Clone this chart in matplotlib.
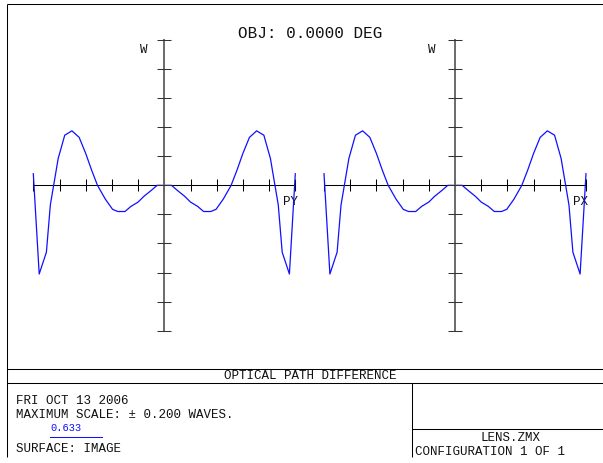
import numpy as np
import matplotlib
matplotlib.use("Agg")
import matplotlib.pyplot as plt

# Optical path difference fans (waves) versus normalized pupil coordinate
pupil = [-1.00, -0.955, -0.90, -0.87, -0.81, -0.76, -0.705, -0.65, -0.60, -0.555,
         -0.51, -0.45, -0.395, -0.355, -0.30, -0.255, -0.20, -0.155, -0.10, -0.055,
         0.00,
         0.055, 0.10, 0.155, 0.20, 0.255, 0.30, 0.355, 0.395, 0.45, 0.51,
         0.555, 0.60, 0.65, 0.705, 0.76, 0.81, 0.87, 0.90, 0.955, 1.00]
opd_py = [0.016, -0.122, -0.092, -0.027, 0.037, 0.069, 0.075, 0.066, 0.044, 0.021,
          0.000, -0.019, -0.033, -0.036, -0.036, -0.029, -0.023, -0.015, -0.007, 0.000,
          0.000,
          0.000, -0.007, -0.015, -0.023, -0.029, -0.036, -0.036, -0.033, -0.019, 0.000,
          0.021, 0.044, 0.066, 0.075, 0.069, 0.037, -0.027, -0.092, -0.122, 0.016]
opd_px = [0.016, -0.122, -0.092, -0.027, 0.037, 0.069, 0.075, 0.066, 0.044, 0.021,
          0.000, -0.019, -0.033, -0.036, -0.036, -0.029, -0.023, -0.015, -0.007, 0.000,
          0.000,
          0.000, -0.007, -0.015, -0.023, -0.029, -0.036, -0.036, -0.033, -0.019, 0.000,
          0.021, 0.044, 0.066, 0.075, 0.069, 0.037, -0.027, -0.092, -0.122, 0.016]
fan_labels = ["PY", "PX"]
max_scale = 0.200
pupil_ticks = [-1.0, -0.8, -0.6, -0.4, -0.2, 0.0, 0.2, 0.4, 0.6, 0.8, 1.0]
wave_ticks = [-0.20, -0.16, -0.12, -0.08, -0.04, 0.0, 0.04, 0.08, 0.12, 0.16, 0.20]

title = "OBJ: 0.0000 DEG"
plot_name = "OPTICAL PATH DIFFERENCE"
info_lines = ["FRI OCT 13 2006", "MAXIMUM SCALE: \u00b1 0.200 WAVES."]
wavelength = "0.633"
surface_line = "SURFACE: IMAGE"
file_name = "LENS.ZMX"
config_line = "CONFIGURATION 1 OF 1"

W, H, DPI = 603, 464, 100
fig = plt.figure(figsize=(W / DPI, H / DPI), dpi=DPI)
fig.patch.set_facecolor("white")

FONT = ["Liberation Mono", "DejaVu Sans Mono"]
BLUE = "#1010ff"
lw = 0.75

# Pixel-space layer for the frame and annotation block
bg = fig.add_axes([0, 0, 1, 1])
bg.set_xlim(0, W)
bg.set_ylim(H, 0)
bg.axis("off")

frame = [
    ((7, 7), (5, 458)),
    ((7, W), (5, 5)),
    ((7, W), (369.5, 369.5)),
    ((7, W), (383.5, 383.5)),
    ((411.5, 411.5), (383.5, 458)),
    ((411.5, W), (430, 430)),
]
for xs, ys in frame:
    bg.plot(xs, ys, color="black", lw=lw, solid_capstyle="butt")

txt = dict(family=FONT, fontsize=9, color="#111111")
bg.text(310, 33, title, ha="center", va="center", family=FONT, fontsize=11.5, color="#111111")
bg.text(310, 376.5, plot_name, ha="center", va="center", **txt)
bg.text(16, 401.5, info_lines[0], ha="left", va="center", **txt)
bg.text(16, 415.5, info_lines[1], ha="left", va="center", **txt)
bg.text(50, 428.5, wavelength, ha="left", va="center", family=FONT, fontsize=7.5, color=BLUE)
bg.plot([50, 101.5], [437.5, 437.5], color=BLUE, lw=lw)
bg.text(16, 449, surface_line, ha="left", va="center", **txt)
bg.text(510, 438, file_name, ha="center", va="center", **txt)
bg.text(415, 452, config_line, ha="left", va="center", **txt)

# Fan panels: (left px, right px, data, label, W label x px, fan label x px)
panels = [
    (33.3, 295.3, opd_py, fan_labels[0], 143.5, 291),
    (324.0, 586.0, opd_px, fan_labels[1], 432, 580),
]
top_px, bot_px = 41.0, 331.7
for x0, x1, opd, lab, wx, lx in panels:
    ax = fig.add_axes([x0 / W, 1 - bot_px / H, (x1 - x0) / W, (bot_px - top_px) / H])
    ax.set_xlim(-1, 1)
    ax.set_ylim(-max_scale, max_scale)
    ax.axis("off")
    # pupil axis with ticks
    ax.plot([-1, 1], [0, 0], color="black", lw=lw, clip_on=False, zorder=1)
    ax.plot(pupil_ticks, np.zeros(len(pupil_ticks)), ls="none", marker="|",
            ms=9, mew=lw, color="black", clip_on=False, zorder=1)
    # OPD curve
    ax.plot(pupil, opd, color=BLUE, lw=0.9, clip_on=False, zorder=2)
    # wave axis with ticks
    ax.plot([0, 0], [-max_scale, max_scale], color="#6a6a6a", lw=1.4,
            clip_on=False, zorder=3)
    ax.plot(np.zeros(len(wave_ticks)), wave_ticks, ls="none", marker="_",
            ms=10, mew=lw, color="#333333", clip_on=False, zorder=3)
    bg.text(wx, 50, "W", ha="center", va="center", **txt)
    bg.text(lx, 202, lab, ha="center", va="center", **txt)

fig.savefig("out.png", dpi=DPI, facecolor="white")
